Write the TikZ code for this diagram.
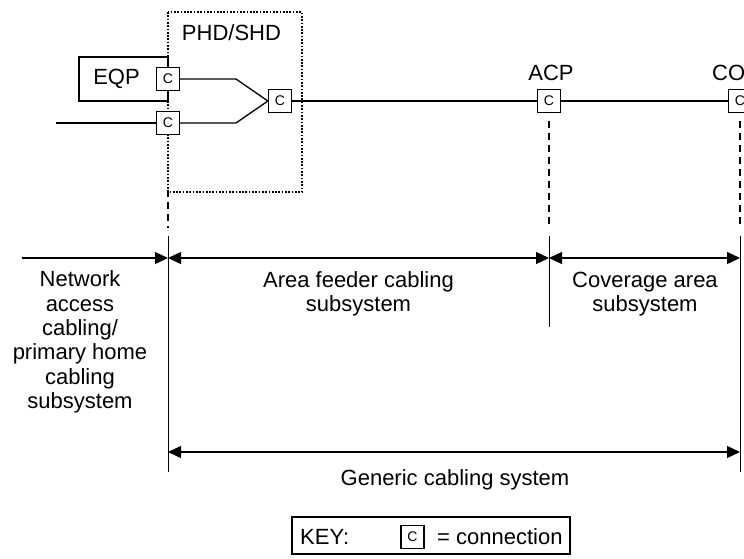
\documentclass[tikz,border=0pt]{standalone}
\usepackage{fontspec}
\setmainfont{Liberation Sans}
\usetikzlibrary{arrows.meta}
\begin{document}
\begin{tikzpicture}[x=1pt,y=-1pt,
  every node/.style={font=\fontsize{22}{24.4}\selectfont, inner sep=0pt},
  conn/.style={draw, line width=1.2pt, fill=white, minimum size=23pt, inner sep=0pt,
    font=\fontsize{14}{14}\selectfont},
  cable/.style={line width=1.3pt},
  housing/.style={line width=1.7pt, dash pattern=on 1.7pt off 1.6pt},
  boundary/.style={line width=2pt, dash pattern=on 7pt off 5pt},
  limit/.style={line width=1pt},
  span/.style={line width=1.3pt, {Triangle[length=13pt,width=12pt]}-{Triangle[length=13pt,width=12pt]}},
  oneway/.style={line width=1.3pt, -{Triangle[length=13pt,width=12pt]}},
  txt/.style={align=center}]
\useasboundingbox (0,0) rectangle (744,558);

% home distributor housing and equipment
\draw[housing] (168,12) rectangle (302,192);
\node (phd) at (231.5,33) {PHD/SHD};
\draw[line width=1.2pt] (79,57) rectangle (168,101);
\node (eqp) at (116.5,79) {EQP};

% connections
\node[conn] (c1) at (168,79) {C};
\node[conn] (c2) at (168,123) {C};
\node[conn] (c3) at (280,101) {C};
\node[conn] (acp) at (549,101) {C};
\node[conn] (cop) at (740,101) {C};
\node (acplbl) at (551,73) {ACP};
\node[anchor=west] (coplbl) at (712,73) {CO};

% cables
\coordinate (feed) at (56,123);
\draw[cable] (c1.east) -- (236,79) -- (c3.west);
\draw[cable] (feed) -- (c2.west);
\draw[cable] (c2.east) -- (236,123) -- (c3.west);
\draw[cable] (c3.east) -- (acp.west);
\draw[cable] (acp.east) -- (cop.west);

% subsystem boundaries
\coordinate (b1top) at (168,236);
\coordinate (b1bot) at (168,472);
\coordinate (b2top) at (549,236);
\coordinate (b2bot) at (549,327);
\coordinate (b3top) at (740,236);
\coordinate (b3bot) at (740,472);
\draw[boundary, dash phase=-10pt] (168,192) -- (168,228);
\draw[boundary] (acp.south) ++(0,8) -- (549,228);
\draw[boundary] (cop.south) ++(0,8) -- (740,228);
\draw[limit] (b1top) -- (b1bot);
\draw[limit] (b2top) -- (b2bot);
\draw[limit] (b3top) -- (b3bot);

% extents
\coordinate (nstart) at (22,258);
\draw[oneway] (nstart) -- (168,258);
\draw[span] (168,258) -- (549,258);
\draw[span] (549,258) -- (740,258);
\draw[span] (168,452) -- (740,452);

\node[txt] (netlbl) at (80,342) {Network\\access\\cabling/\\primary home\\cabling\\subsystem};
\node[txt] (afclbl) at (358.5,294) {Area feeder cabling\\subsystem};
\node[txt] (cavlbl) at (645,294) {Coverage area\\subsystem};
\node (genlbl) at (455,480) {Generic cabling system};

% key
\draw[line width=1.2pt] (292,517) rectangle (570,554);
\node[anchor=west] (keylbl) at (300,537) {KEY:};
\node[conn] (keyc) at (412.5,537) {C};
\node[anchor=west] (keytxt) at (437,537) {= connection};
\end{tikzpicture}
\end{document}
